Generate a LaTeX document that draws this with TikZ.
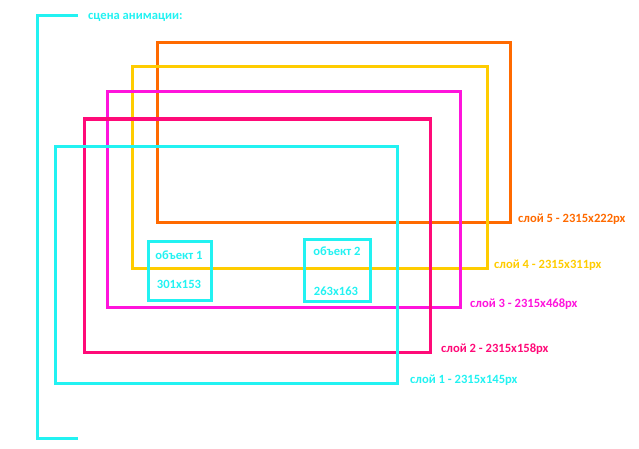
\documentclass[tikz,border=0pt]{standalone}
\usepackage{fontspec}
\setmainfont{Carlito}
\usepackage{xcolor}
\usepackage{tikz}
\usetikzlibrary{positioning,calc}

\definecolor{layA}{HTML}{22F2F2}
\definecolor{layB}{HTML}{FF0A78}
\definecolor{layC}{HTML}{FF14DC}
\definecolor{layD}{HTML}{FFCC00}
\definecolor{layE}{HTML}{FF6A00}

\begin{document}
\begin{tikzpicture}[x=1pt, y=1pt, every node/.style={font=\bfseries\fontsize{12.6}{14}\selectfont, inner sep=0pt},
    layer/.style={line width=3pt}]
        \useasboundingbox (0,0) rectangle (639,448);

        % scene bracket
        \coordinate (bt) at (78,432);
        \coordinate (bb) at (78,10);
        \draw[layA, line width=3pt] (bt) -- (37,432) -- (37,10) -- (bb);
        \node[layA, anchor=west] (scene) at (88,431) {сцена анимации:};

        % layers, back to front
        \foreach \xa/\ya/\xb/\yb/\c/\n/\s/\d in {157/405/510/226/layE/5/222/8,
                                            132/381/487/180/layD/4/311/7,
                                            107/356/460/141/layC/3/468/10,
                                            84/329/430/96/layB/2/158/11,
                                            55/302/397/65/layA/1/145/13} {
            \draw[layer, \c] (\xa,\ya) rectangle (\xb,\yb);
            \node[\c, anchor=west] (layer\n) at ($(\xb,\yb)+(\d,3)$) {слой \n\ - 2315x\s px};
        }

        % objects
        \draw[layer, layA] (148,207) rectangle (211,148);
        \node[layA] (obj1) at (179,193) {объект 1};
        \node[layA] (obj1size) at (179,164) {301x153};
        \draw[layer, layA] (304,209) rectangle (370,147);
        \node[layA] (obj2) at (337,197) {объект 2};
        \node[layA] (obj2size) at (336,157) {263x163};
    \end{tikzpicture}
\end{document}
